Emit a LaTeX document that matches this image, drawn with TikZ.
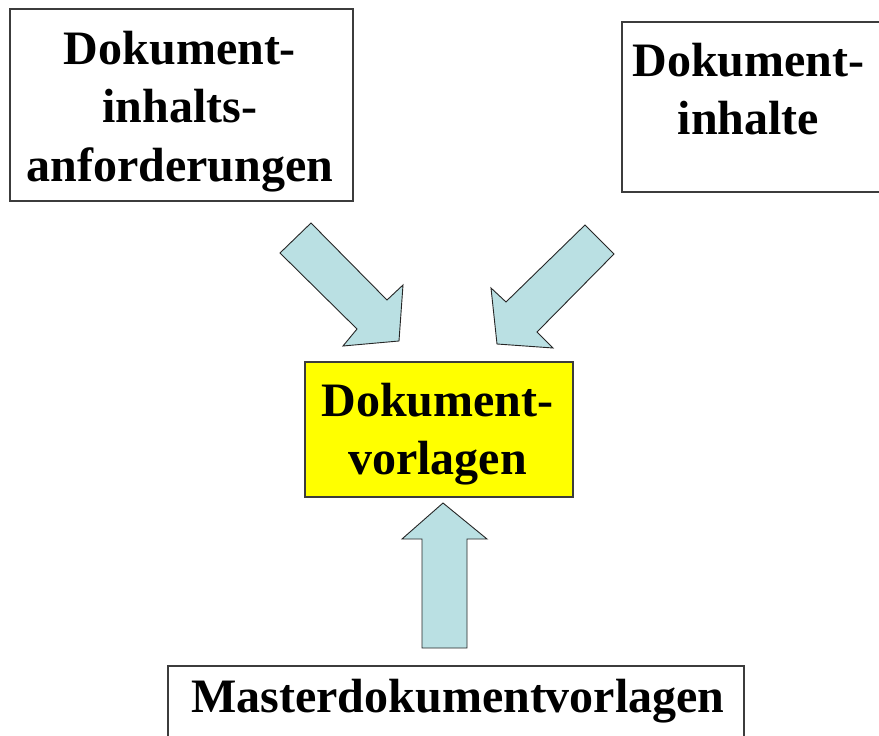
\documentclass[tikz,border=0pt]{standalone}
\usepackage{fontspec}
\setmainfont{Liberation Serif}
\definecolor{boxline}{RGB}{60,60,60}
\definecolor{arrowfill}{RGB}{186,224,227}
\definecolor{tplyellow}{RGB}{255,255,0}
\begin{document}
\begin{tikzpicture}[x=1pt,y=-1pt,
  box/.style={draw=boxline, line width=1.3pt, inner sep=0pt, fill=white},
  lbl/.style={font=\bfseries\fontsize{48}{58.5}\selectfont, align=center, inner sep=0pt, anchor=north},
  blockarrow/.style={draw=black!85, fill=arrowfill, line width=0.9pt, line join=miter}]
\useasboundingbox[fill=white] (0,0) rectangle (879,736);

% boxes
\node[box, minimum width=343pt, minimum height=192pt] (req) at (181.5,105) {};
\node[box, minimum width=268pt, minimum height=170pt] (cont) at (756,107) {};
\node[box, fill=tplyellow, minimum width=268pt, minimum height=135pt] (tpl) at (439,429.5) {};
\node[box, minimum width=576pt, minimum height=84pt] (master) at (456,708) {};

% texts
\node[lbl] (reqt) at (180,30.5) {Dokument-\\inhalts-\\anforderungen};
\node[lbl] (contt) at (748.5,42.5) {Dokument-\\inhalte};
\node[lbl] (tplt) at (437.5,382.5) {Dokument-\\vorlagen};
\node[lbl] (mastert) at (458,678.5) {Masterdokumentvorlagen};

% block arrows
\draw[blockarrow] (311,223) -- (280,253) -- (357,329) -- (343,346) -- (399,341)
  -- (403,285) -- (387,300) -- cycle;
\draw[blockarrow] (585,225) -- (614,254) -- (537,332) -- (553,348) -- (497,344)
  -- (491,288) -- (506,302) -- cycle;
\draw[blockarrow] (422,648) -- (422,539) -- (402,539) -- (443,503) -- (487,539)
  -- (467,539) -- (467,648) -- cycle;
\end{tikzpicture}
\end{document}
